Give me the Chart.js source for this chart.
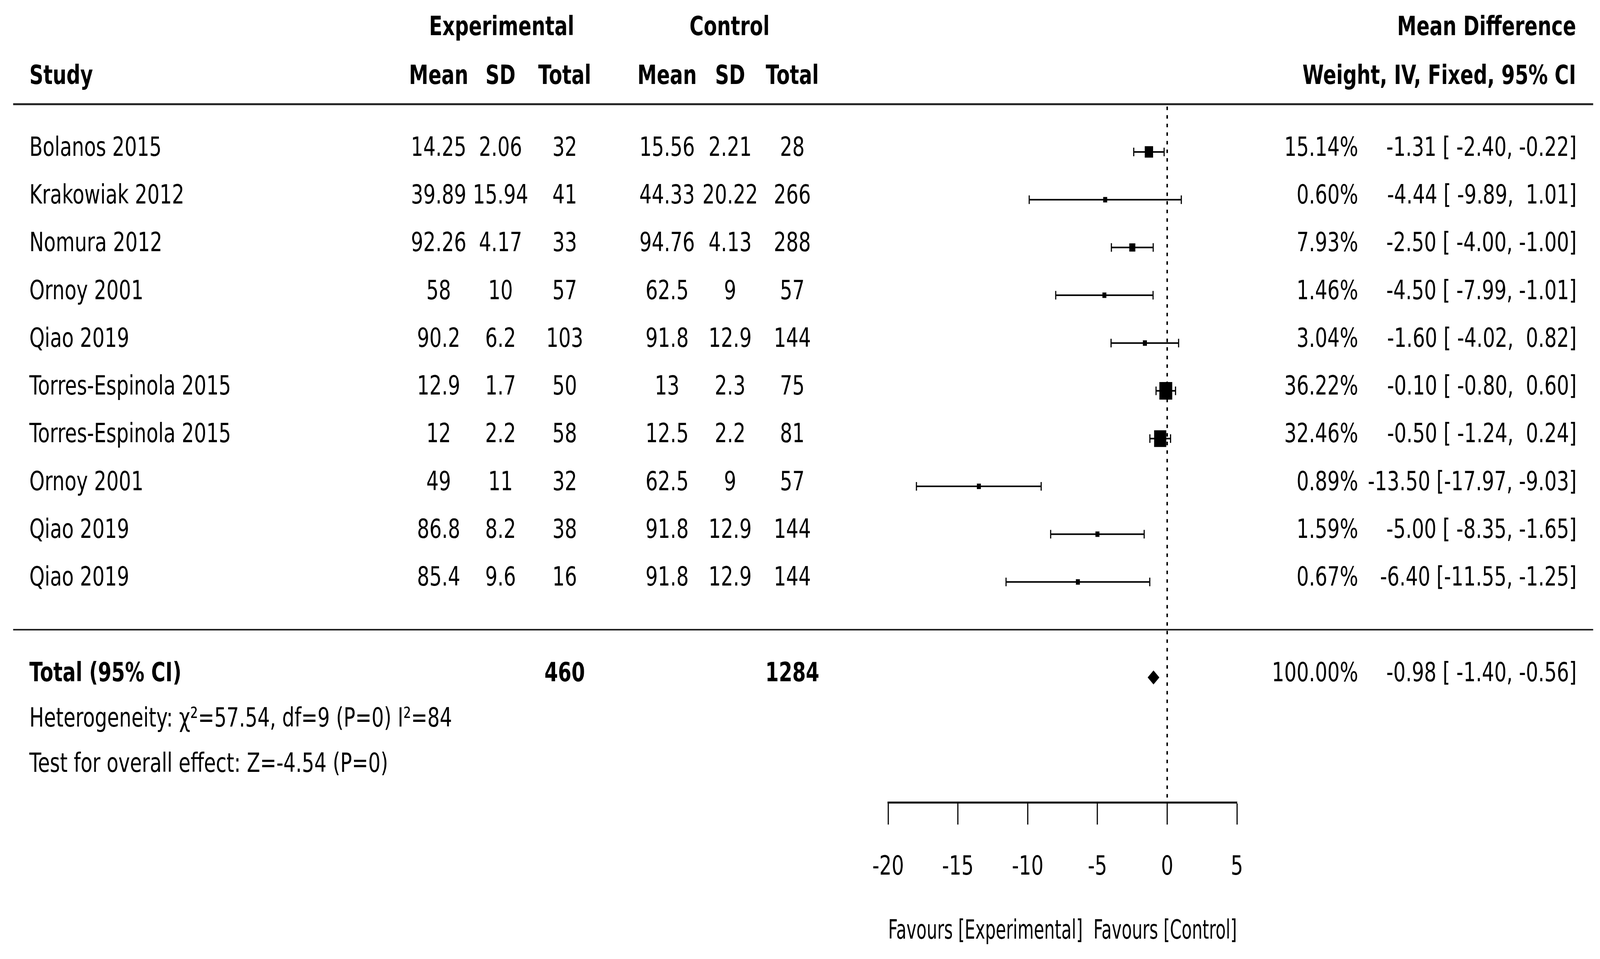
<!DOCTYPE html>
<html>
<head>
<meta charset="utf-8">
<script src="https://cdn.jsdelivr.net/npm/chart.js@4.4.1/dist/chart.umd.min.js"></script>
<style>
    html, body { margin: 0; padding: 0; background: #fff; overflow: hidden; }
    canvas { display: block; }
</style>
</head>
<body>
<!-- drawn at 5610x2455, shown stretched over the whole window -->
<canvas id="forest" width="5610" height="2455" style="width:100vw;height:100vh"></canvas>
<script>
const studies = ['Bolanos 2015', 'Krakowiak 2012', 'Nomura 2012', 'Ornoy 2001', 'Qiao 2019',
    'Torres-Espinola 2015', 'Torres-Espinola 2015', 'Ornoy 2001', 'Qiao 2019', 'Qiao 2019'];
const expMean = [14.25, 39.89, 92.26, 58, 90.2, 12.9, 12, 49, 86.8, 85.4];
const expSD = [2.06, 15.94, 4.17, 10, 6.2, 1.7, 2.2, 11, 8.2, 9.6];
const expN = [32, 41, 33, 57, 103, 50, 58, 32, 38, 16];
const ctlMean = [15.56, 44.33, 94.76, 62.5, 91.8, 13, 12.5, 62.5, 91.8, 91.8];
const ctlSD = [2.21, 20.22, 4.13, 9, 12.9, 2.3, 2.2, 9, 12.9, 12.9];
const ctlN = [28, 266, 288, 57, 144, 75, 81, 57, 144, 144];
const weights = [15.14, 0.60, 7.93, 1.46, 3.04, 36.22, 32.46, 0.89, 1.59, 0.67];
const meanDiff = [-1.31, -4.44, -2.50, -4.50, -1.60, -0.10, -0.50, -13.50, -5.00, -6.40];
const ciLow = [-2.40, -9.89, -4.00, -7.99, -4.02, -0.80, -1.24, -17.97, -8.35, -11.55];
const ciHigh = [-0.22, 1.01, -1.00, -1.01, 0.82, 0.60, 0.24, -9.03, -1.65, -1.25];

const totalN = [460, 1284];
const totalWeight = [100.00];
const totalEffect = [-0.98, -1.40, -0.56]; // estimate, low, high
const heterogeneity = 'Heterogeneity: \u03c7\u00b2=57.54, df=9 (P=0) I\u00b2=84';
const overallTest = 'Test for overall effect: Z=-4.54 (P=0)';
const xTicks = [-20, -15, -10, -5, 0, 5];

const FONT = 'DejaVu Sans';
const SIZE = 68;

function fmt(v) {
    return v.toFixed(2);
}
function ciText(m, lo, hi) {
    return fmt(m) + ' [' + fmt(lo).padStart(6, ' ') + ',' + fmt(hi).padStart(6, ' ') + ']';
}

// one line dataset per study: CI line with vertical caps at the ends
const ciSets = studies.map(function (s, i) {
    return {
        type: 'line',
        data: [{ x: ciLow[i], y: i }, { x: ciHigh[i], y: i }],
        borderColor: '#000',
        borderWidth: 4,
        pointStyle: 'line',
        pointRotation: 90,
        pointRadius: 11,
        pointBorderWidth: 4,
        pointBorderColor: '#000',
        fill: false
    };
});

const pointSet = {
    type: 'scatter',
    data: meanDiff.map(function (m, i) { return { x: m, y: i }; }),
    pointStyle: 'rect',
    pointRadius: weights.map(function (w) { return Math.max(7.5 * Math.sqrt(w), 14) / Math.SQRT2; }),
    backgroundColor: '#000',
    pointBorderWidth: 0
};

const tablePlugin = {
    id: 'forestTable',
    beforeDatasetsDraw: function (chart) {
        const ctx = chart.ctx;
        const x = chart.scales.x;
        const y = chart.scales.y;
        const x0 = x.getPixelForValue(0);
        // dotted line of no effect
        ctx.save();
        ctx.strokeStyle = '#000';
        ctx.lineWidth = 5;
        ctx.setLineDash([9, 13]);
        ctx.beginPath();
        ctx.moveTo(x0, y.getPixelForValue(-1) + 6);
        ctx.lineTo(x0, chart.chartArea.bottom);
        ctx.stroke();
        ctx.restore();
    },
    afterDraw: function (chart) {
        const ctx = chart.ctx;
        const x = chart.scales.x;
        const y = chart.scales.y;
        const rowY = function (v) { return y.getPixelForValue(v) - 8; };

        ctx.save();
        // separators
        ctx.strokeStyle = '#222';
        ctx.lineWidth = 5;
        ctx.beginPath();
        ctx.moveTo(46, y.getPixelForValue(-1));
        ctx.lineTo(5586, y.getPixelForValue(-1));
        ctx.stroke();
        ctx.lineWidth = 4;
        ctx.beginPath();
        ctx.moveTo(46, y.getPixelForValue(10));
        ctx.lineTo(5586, y.getPixelForValue(10));
        ctx.stroke();

        // total diamond
        const dy = y.getPixelForValue(11);
        ctx.fillStyle = '#000';
        ctx.beginPath();
        ctx.moveTo(x.getPixelForValue(totalEffect[1]), dy);
        ctx.lineTo(x.getPixelForValue(totalEffect[0]), dy - 18);
        ctx.lineTo(x.getPixelForValue(totalEffect[2]), dy);
        ctx.lineTo(x.getPixelForValue(totalEffect[0]), dy + 18);
        ctx.closePath();
        ctx.fill();

        ctx.textBaseline = 'middle';
        function put(text, px, v, align, bold) {
            ctx.font = (bold ? 'bold ' : '') + SIZE + 'px "' + FONT + '"';
            ctx.textAlign = align;
            ctx.fillText(text, px, rowY(v));
        }

        // headers
        put('Experimental', 1759, -2.52, 'center', true);
        put('Control', 2558, -2.52, 'center', true);
        put('Mean Difference', 5526, -2.52, 'right', true);
        put('Study', 103, -1.5, 'left', true);
        put('Mean', 1538, -1.5, 'center', true);
        put('SD', 1755, -1.5, 'center', true);
        put('Total', 1980, -1.5, 'center', true);
        put('Mean', 2339, -1.5, 'center', true);
        put('SD', 2560, -1.5, 'center', true);
        put('Total', 2778, -1.5, 'center', true);
        put('Weight, IV, Fixed, 95% CI', 5526, -1.5, 'right', true);

        // study rows
        studies.forEach(function (s, i) {
            put(s, 103, i, 'left', false);
            put(String(expMean[i]), 1538, i, 'center', false);
            put(String(expSD[i]), 1755, i, 'center', false);
            put(String(expN[i]), 1980, i, 'center', false);
            put(String(ctlMean[i]), 2339, i, 'center', false);
            put(String(ctlSD[i]), 2560, i, 'center', false);
            put(String(ctlN[i]), 2778, i, 'center', false);
            put(fmt(weights[i]) + '%', 4762, i, 'right', false);
            put(ciText(meanDiff[i], ciLow[i], ciHigh[i]), 5528, i, 'right', false);
        });

        // total rows
        put('Total (95% CI)', 103, 11, 'left', true);
        put(String(totalN[0]), 1980, 11, 'center', true);
        put(String(totalN[1]), 2778, 11, 'center', true);
        put(fmt(totalWeight[0]) + '%', 4762, 11, 'right', false);
        put(ciText(totalEffect[0], totalEffect[1], totalEffect[2]), 5528, 11, 'right', false);
        put(heterogeneity, 103, 11.95, 'left', false);
        put(overallTest, 103, 12.9, 'left', false);
        ctx.restore();
    }
};

new Chart(document.getElementById('forest'), {
    type: 'scatter',
    data: {
        datasets: [pointSet].concat(ciSets)
    },
    options: {
        responsive: false,
        animation: false,
        devicePixelRatio: 1,
        events: [],
        layout: {
            autoPadding: false,
            padding: { left: 3114, right: 1273, top: 0, bottom: 29 }
        },
        plugins: {
            legend: { display: false },
            tooltip: { enabled: false }
        },
        scales: {
            x: {
                type: 'linear',
                min: xTicks[0],
                max: xTicks[xTicks.length - 1],
                afterBuildTicks: function (axis) {
                    axis.ticks = xTicks.map(function (v) { return { value: v }; });
                },
                ticks: {
                    color: '#000',
                    padding: 70,
                    maxRotation: 0,
                    font: { family: FONT, size: SIZE }
                },
                grid: {
                    drawOnChartArea: false,
                    drawTicks: true,
                    tickLength: 56,
                    tickWidth: 4,
                    tickColor: '#000'
                },
                border: { display: true, color: '#000', width: 5 },
                title: {
                    display: true,
                    text: 'Favours [Experimental]  Favours [Control]',
                    color: '#000',
                    font: { family: FONT, size: SIZE },
                    padding: { top: 12, bottom: 0 }
                }
            },
            y: {
                type: 'linear',
                reverse: true,
                min: -3.18,
                max: 13.62,
                display: false
            }
        }
    },
    plugins: [tablePlugin]
});
</script>
</body>
</html>
